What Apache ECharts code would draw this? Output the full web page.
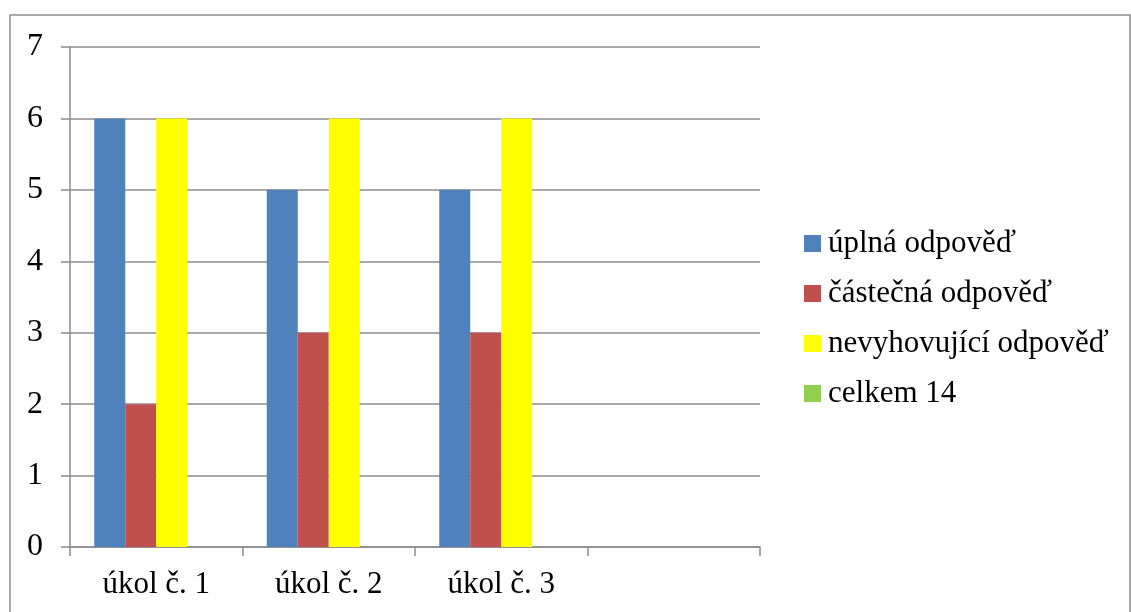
<!DOCTYPE html>
<html>
<head>
<meta charset="utf-8">
<script src="https://cdn.jsdelivr.net/npm/echarts@6/dist/echarts.min.js"></script>
<style>
  html, body { margin: 0; padding: 0; background: #fff; }
  #chart { width: 1131px; height: 612px; }
</style>
</head>
<body>
<div id="chart"></div>
<script>
// Task categories (the fourth slot is left blank)
const categories = ['úkol č. 1', 'úkol č. 2', 'úkol č. 3', ''];

// Answer counts per task
const seriesNames = ['úplná odpověď', 'částečná odpověď', 'nevyhovující odpověď', 'celkem 14'];
const uplna = [6, 5, 5, null];
const castecna = [2, 3, 3, null];
const nevyhovujici = [6, 6, 6, null];
const celkem = [null, null, null, null];

const yTicks = [0, 1, 2, 3, 4, 5, 6, 7];

const colors = ['#4F81BD', '#C0504D', '#FFFF00', '#92D050'];
const values = [uplna, castecna, nevyhovujici, celkem];

const font = '"Liberation Serif", "Times New Roman", serif';
const gray = '#8c8c8c';

const chart = echarts.init(document.getElementById('chart'), null, { renderer: 'canvas' });

chart.setOption({
  animation: false,
  backgroundColor: '#fff',
  color: colors,
  textStyle: { fontFamily: font },
  graphic: [{
    type: 'rect',
    shape: { x: 10, y: 15, width: 1120, height: 640 },
    style: { fill: 'none', stroke: gray, lineWidth: 1.5 },
    z: -1
  }],
  grid: { left: 70, right: 371, top: 47, bottom: 65 },
  legend: {
    orient: 'vertical',
    left: 804,
    top: 228,
    padding: 0,
    itemWidth: 17,
    itemHeight: 17,
    itemGap: 19,
    icon: 'rect',
    textStyle: { fontFamily: font, fontSize: 31, color: '#000', padding: [0, 0, 0, 2] },
    data: seriesNames
  },
  xAxis: {
    type: 'category',
    data: categories,
    boundaryGap: true,
    axisLine: { lineStyle: { color: gray, width: 1.5 } },
    axisTick: { show: true, length: 9, alignWithLabel: false, lineStyle: { color: gray, width: 1.5 } },
    axisLabel: { color: '#000', fontFamily: font, fontSize: 31, margin: 22 }
  },
  yAxis: {
    type: 'value',
    min: yTicks[0],
    max: yTicks[yTicks.length - 1],
    interval: 1,
    axisLine: { show: true, lineStyle: { color: gray, width: 1.5 } },
    axisTick: { show: true, length: 9, lineStyle: { color: gray, width: 1.5 } },
    axisLabel: { color: '#000', fontFamily: font, fontSize: 32, margin: 27 },
    splitLine: { show: true, lineStyle: { color: gray, width: 1.5 } }
  },
  series: seriesNames.map((name, i) => ({
    name: name,
    type: 'bar',
    data: values[i],
    barWidth: 31,
    barGap: '0%',
    itemStyle: { color: colors[i] }
  }))
});
</script>
</body>
</html>
